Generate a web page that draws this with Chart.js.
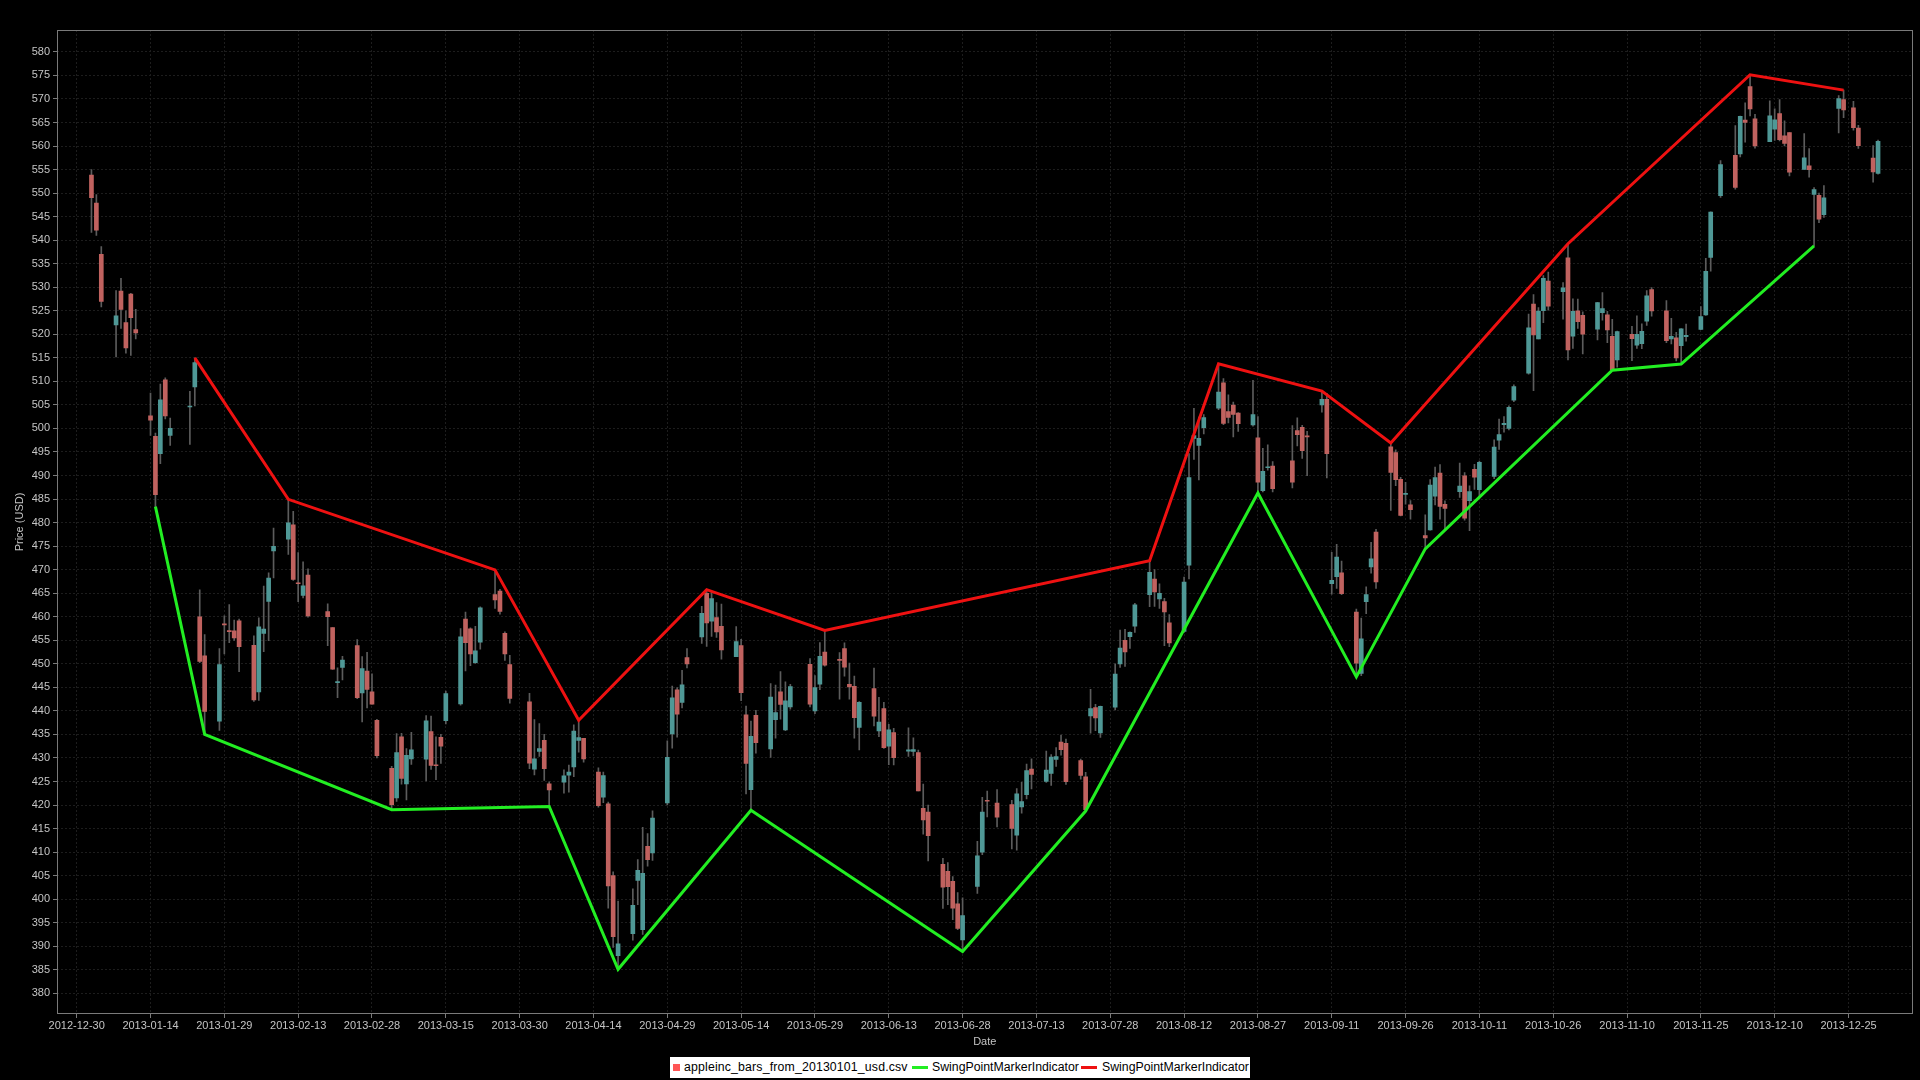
<!DOCTYPE html>
<html>
<head>
<meta charset="utf-8">
<title>appleinc bars 2013</title>
<script src="https://cdn.jsdelivr.net/npm/chart.js@4"></script>
<style>
  html, body { margin: 0; padding: 0; background: #000; }
  #wrap { position: relative; width: 1920px; height: 1080px; }
  #chart { position: absolute; left: 0; top: 0; }
  #legend {
    position: absolute; left: 670px; top: 1057px; width: 580px; height: 21px;
    background: #fff; font: 12.3px "Liberation Sans", Arial, sans-serif; color: #000;
  }
  #legend span { position: absolute; white-space: nowrap; }
  #legend .txt { top: 3px; }
  #legend .sq { top: 7px; width: 7px; height: 7px; }
  #legend .ln { top: 9px; width: 16px; height: 3px; }
</style>
</head>
<body>
<div id="wrap">
  <canvas id="chart" width="1920" height="1080"></canvas>
  <div id="legend"></div>
</div>
<script>
// trading days of 2013 (one line per month)
const tradeDates = [
  '2013-01-02','2013-01-03','2013-01-04','2013-01-07','2013-01-08','2013-01-09','2013-01-10','2013-01-11','2013-01-14','2013-01-15','2013-01-16','2013-01-17','2013-01-18','2013-01-22','2013-01-23','2013-01-24','2013-01-25','2013-01-28','2013-01-29','2013-01-30','2013-01-31',
  '2013-02-01','2013-02-04','2013-02-05','2013-02-06','2013-02-07','2013-02-08','2013-02-11','2013-02-12','2013-02-13','2013-02-14','2013-02-15','2013-02-19','2013-02-20','2013-02-21','2013-02-22','2013-02-25','2013-02-26','2013-02-27','2013-02-28',
  '2013-03-01','2013-03-04','2013-03-05','2013-03-06','2013-03-07','2013-03-08','2013-03-11','2013-03-12','2013-03-13','2013-03-14','2013-03-15','2013-03-18','2013-03-19','2013-03-20','2013-03-21','2013-03-22','2013-03-25','2013-03-26','2013-03-27','2013-03-28',
  '2013-04-01','2013-04-02','2013-04-03','2013-04-04','2013-04-05','2013-04-08','2013-04-09','2013-04-10','2013-04-11','2013-04-12','2013-04-15','2013-04-16','2013-04-17','2013-04-18','2013-04-19','2013-04-22','2013-04-23','2013-04-24','2013-04-25','2013-04-26','2013-04-29','2013-04-30',
  '2013-05-01','2013-05-02','2013-05-03','2013-05-06','2013-05-07','2013-05-08','2013-05-09','2013-05-10','2013-05-13','2013-05-14','2013-05-15','2013-05-16','2013-05-17','2013-05-20','2013-05-21','2013-05-22','2013-05-23','2013-05-24','2013-05-28','2013-05-29','2013-05-30','2013-05-31',
  '2013-06-03','2013-06-04','2013-06-05','2013-06-06','2013-06-07','2013-06-10','2013-06-11','2013-06-12','2013-06-13','2013-06-14','2013-06-17','2013-06-18','2013-06-19','2013-06-20','2013-06-21','2013-06-24','2013-06-25','2013-06-26','2013-06-27','2013-06-28',
  '2013-07-01','2013-07-02','2013-07-03','2013-07-05','2013-07-08','2013-07-09','2013-07-10','2013-07-11','2013-07-12','2013-07-15','2013-07-16','2013-07-17','2013-07-18','2013-07-19','2013-07-22','2013-07-23','2013-07-24','2013-07-25','2013-07-26','2013-07-29','2013-07-30','2013-07-31',
  '2013-08-01','2013-08-02','2013-08-05','2013-08-06','2013-08-07','2013-08-08','2013-08-09','2013-08-12','2013-08-13','2013-08-14','2013-08-15','2013-08-16','2013-08-19','2013-08-20','2013-08-21','2013-08-22','2013-08-23','2013-08-26','2013-08-27','2013-08-28','2013-08-29','2013-08-30',
  '2013-09-03','2013-09-04','2013-09-05','2013-09-06','2013-09-09','2013-09-10','2013-09-11','2013-09-12','2013-09-13','2013-09-16','2013-09-17','2013-09-18','2013-09-19','2013-09-20','2013-09-23','2013-09-24','2013-09-25','2013-09-26','2013-09-27','2013-09-30',
  '2013-10-01','2013-10-02','2013-10-03','2013-10-04','2013-10-07','2013-10-08','2013-10-09','2013-10-10','2013-10-11','2013-10-14','2013-10-15','2013-10-16','2013-10-17','2013-10-18','2013-10-21','2013-10-22','2013-10-23','2013-10-24','2013-10-25','2013-10-28','2013-10-29','2013-10-30','2013-10-31',
  '2013-11-01','2013-11-04','2013-11-05','2013-11-06','2013-11-07','2013-11-08','2013-11-11','2013-11-12','2013-11-13','2013-11-14','2013-11-15','2013-11-18','2013-11-19','2013-11-20','2013-11-21','2013-11-22','2013-11-25','2013-11-26','2013-11-27','2013-11-29',
  '2013-12-02','2013-12-03','2013-12-04','2013-12-05','2013-12-06','2013-12-09','2013-12-10','2013-12-11','2013-12-12','2013-12-13','2013-12-16','2013-12-17','2013-12-18','2013-12-19','2013-12-20','2013-12-23','2013-12-24','2013-12-26','2013-12-27','2013-12-30','2013-12-31'
];

const openPrices = [
  553.82,547.88,536.97,522.00,529.21,522.50,528.55,521.00,502.68,498.30,494.64,510.31,498.52,504.56,508.81,460.00,451.69,437.83,458.50,457.00,456.98,
  459.11,453.91,444.05,456.47,463.25,474.00,476.50,479.51,467.21,464.52,468.85,461.10,457.69,446.00,449.25,453.85,443.82,448.43,444.05,
  438.00,427.80,421.48,434.51,424.50,429.80,429.75,435.60,428.45,434.40,437.93,441.45,459.50,457.42,450.22,454.60,464.69,465.44,456.46,449.82,
  441.90,427.60,431.37,433.76,424.50,424.85,426.36,428.10,433.72,434.15,427.00,421.64,420.27,404.99,387.97,392.64,403.99,393.54,411.23,409.81,420.45,435.10,
  444.46,441.78,451.31,455.71,464.97,459.04,459.81,457.97,451.51,453.85,439.16,423.24,439.05,431.91,438.15,444.05,435.95,440.85,449.90,440.00,445.65,452.50,
  450.73,453.22,445.65,445.21,436.50,444.73,435.74,440.50,432.50,435.40,431.44,431.36,431.14,419.32,418.49,407.40,405.90,403.80,399.01,391.36,
  402.69,409.96,420.86,420.39,420.10,413.60,419.60,422.20,427.64,425.01,426.70,429.70,433.35,433.10,429.46,426.00,438.93,440.70,435.30,440.80,449.96,454.99,
  455.75,458.01,464.69,468.02,463.80,463.23,458.68,456.86,470.94,497.88,496.42,500.15,504.31,509.71,503.59,504.97,503.27,500.75,498.00,486.80,491.65,492.00,
  493.10,499.56,500.25,498.44,505.00,506.20,467.01,468.50,469.34,461.00,447.96,463.18,470.60,478.00,496.10,494.88,489.20,486.00,483.78,477.25,
  478.45,485.63,490.51,483.86,486.56,489.94,484.64,491.32,486.99,489.83,497.51,500.79,499.98,505.99,511.77,526.41,519.00,525.00,531.32,529.04,536.27,519.61,525.00,
  524.02,521.10,524.58,524.15,519.58,514.58,519.99,517.67,518.00,522.81,529.51,524.99,519.03,519.23,517.60,519.52,521.02,524.12,536.31,549.48,
  558.00,558.30,565.50,572.65,565.79,560.90,563.58,566.89,562.14,562.85,555.02,555.81,549.70,549.50,545.43,568.00,569.89,568.10,563.82,557.46,554.17
];

const highPrices = [
  555.00,549.67,538.63,529.30,531.89,525.01,528.72,525.32,507.50,498.99,509.44,510.75,502.22,507.88,514.99,465.73,456.23,453.21,460.20,462.60,459.28,
  459.48,455.94,459.74,466.50,469.35,478.81,484.94,482.38,473.64,471.64,470.16,462.73,457.69,449.17,451.60,455.12,451.54,452.44,447.87,
  438.18,428.20,435.19,435.25,432.01,435.43,439.01,438.88,434.50,435.00,444.23,457.46,460.97,457.63,457.98,462.10,469.95,465.84,456.80,451.82,
  443.70,438.14,437.28,435.00,424.95,427.50,428.50,437.06,437.99,434.15,427.89,426.99,420.60,405.79,399.60,402.20,408.38,415.25,413.94,418.77,433.62,445.25,
  444.93,448.59,453.23,462.20,465.75,465.37,463.00,462.68,457.90,455.20,441.00,437.85,440.09,445.80,445.48,448.35,446.16,445.66,451.10,447.50,454.50,457.10,
  452.36,454.43,450.16,447.39,441.95,449.08,442.90,441.81,437.14,436.29,436.42,434.27,431.66,424.43,420.00,408.66,407.79,404.79,401.39,400.27,
  412.27,421.63,422.98,423.29,421.00,423.50,424.80,428.67,429.79,431.46,430.71,432.22,434.87,433.98,429.75,426.96,444.59,441.40,441.04,449.99,457.15,457.34,
  456.80,462.85,471.90,470.00,467.00,463.90,460.46,468.44,494.66,504.25,502.40,502.94,513.74,510.57,507.15,505.59,503.35,510.20,502.51,495.80,496.50,492.95,
  500.60,502.24,500.68,499.38,507.92,507.45,473.69,475.40,471.83,461.61,459.71,466.35,475.83,478.55,496.91,495.47,489.64,488.56,484.67,481.66,
  489.14,491.80,492.35,484.60,492.65,490.64,487.79,492.38,493.08,497.58,502.00,502.53,504.78,509.26,524.30,528.45,525.67,532.47,533.23,531.00,539.25,527.52,527.49,
  524.80,526.82,528.89,524.86,523.19,520.68,521.67,523.92,522.25,529.28,529.94,527.19,523.38,520.42,521.21,522.16,525.87,536.14,546.00,556.92,
  564.33,566.38,569.19,575.14,566.75,569.58,567.88,569.88,565.34,562.88,562.64,559.44,551.19,550.00,551.61,570.72,571.88,569.50,564.41,560.09,561.28
];

const lowPrices = [
  541.63,541.00,525.83,515.20,521.25,515.99,515.52,519.02,498.51,483.38,492.50,502.03,496.40,496.63,504.77,450.25,435.00,435.86,452.12,454.50,454.98,
  448.35,442.00,442.22,452.58,454.89,468.25,473.25,467.74,463.22,464.02,459.92,453.85,448.80,442.82,446.60,442.57,437.66,440.65,441.40,
  429.98,419.00,420.75,424.43,421.06,428.61,425.14,427.57,425.36,428.81,437.25,441.20,448.50,449.59,450.10,453.11,461.78,460.53,450.73,441.62,
  427.74,426.40,430.31,425.25,419.68,422.49,422.75,426.01,431.20,429.09,419.55,420.52,398.11,389.74,385.10,391.27,398.81,392.50,407.00,408.25,420.00,432.07,
  434.39,440.63,449.15,454.31,453.70,455.81,455.58,451.00,451.50,442.15,422.36,418.90,431.01,430.10,434.20,438.22,435.79,440.36,440.85,439.40,444.51,449.50,
  442.48,447.39,442.48,434.20,431.70,436.80,434.51,432.02,428.55,428.50,430.33,430.41,423.00,413.83,408.10,398.05,398.84,395.66,393.54,388.87,
  401.22,409.47,417.45,415.35,410.65,410.38,418.25,421.29,423.41,424.80,424.17,428.22,430.61,424.35,425.47,418.71,435.26,435.81,434.34,440.20,449.23,449.43,
  453.26,456.66,462.15,462.17,461.77,453.84,453.65,456.67,468.05,493.40,489.08,498.86,504.00,500.82,501.20,498.20,499.35,500.50,486.30,486.50,491.13,486.50,
  487.35,496.28,493.64,489.95,503.48,489.50,464.81,466.01,464.70,447.22,447.50,460.66,469.25,466.00,482.60,487.82,481.43,483.90,480.72,474.41,
  478.38,483.75,480.74,478.60,485.35,480.54,478.28,487.03,485.16,489.35,495.52,499.23,499.68,505.71,511.52,508.03,519.00,522.45,525.11,523.21,514.54,517.02,521.27,
  515.84,518.81,523.00,518.20,512.38,513.00,514.41,517.00,516.96,521.87,523.87,518.20,517.97,514.33,513.67,518.53,521.00,524.00,533.40,549.06,
  550.82,557.68,560.82,566.41,559.57,560.90,561.20,561.10,560.03,553.67,555.01,553.38,538.79,543.73,544.82,562.76,566.03,563.38,559.50,552.32,554.00
];

const closePrices = [
  549.03,542.10,527.00,523.90,525.31,517.10,523.51,520.30,501.75,485.92,506.09,502.68,500.00,504.77,514.01,450.50,439.88,449.83,458.27,456.83,455.49,
  453.62,442.32,457.84,457.35,468.22,474.98,479.93,467.90,467.01,466.59,460.16,459.99,448.85,446.06,450.81,442.80,448.97,444.57,441.40,
  430.47,420.05,431.14,425.66,430.58,431.72,437.87,428.43,428.35,432.50,443.66,455.72,454.49,452.08,452.73,461.91,463.58,461.14,452.08,442.66,
  428.91,429.79,431.99,427.72,423.20,426.21,426.98,435.69,434.33,429.80,419.85,426.24,402.80,392.05,390.53,398.67,406.13,405.46,408.38,417.20,430.12,442.78,
  439.29,445.52,449.98,460.71,458.66,463.84,456.77,452.97,454.74,443.86,428.85,434.58,433.26,442.93,439.66,441.35,442.14,445.15,441.44,444.95,451.58,449.73,
  450.72,449.31,445.11,438.56,441.81,438.89,437.60,432.19,435.96,430.05,431.72,431.77,423.00,416.84,413.50,402.54,402.63,398.07,393.78,396.53,
  409.22,418.49,420.80,417.42,415.05,422.35,420.73,427.29,426.51,427.44,430.20,430.31,431.76,424.95,426.31,418.99,440.51,438.50,440.99,447.79,453.32,452.53,
  456.68,462.54,469.45,465.25,464.98,461.01,454.45,467.36,489.57,498.50,497.91,502.33,507.74,501.07,502.36,502.96,501.02,502.97,488.59,490.90,491.70,487.22,
  488.58,498.69,495.27,498.22,506.17,494.64,467.71,472.69,464.90,450.12,455.32,464.68,472.30,467.41,490.64,489.10,481.53,486.22,482.75,476.75,
  487.96,489.56,483.41,483.03,487.75,480.94,486.59,489.64,492.81,496.04,498.68,501.11,504.50,508.89,521.36,519.87,524.96,531.91,525.96,529.88,516.68,524.90,522.70,
  520.03,526.75,525.45,520.92,512.49,520.56,519.05,520.01,520.63,528.16,524.99,518.63,519.55,515.00,521.14,519.80,523.74,533.40,545.96,556.07,
  551.23,566.32,565.00,567.90,560.02,566.43,565.55,561.36,560.54,554.43,557.50,554.99,550.77,544.46,549.02,570.09,567.67,563.90,560.09,554.52,561.02
];

// swing point markers
const swingLowDates = ['2013-01-15','2013-01-25','2013-03-04','2013-04-05','2013-04-19','2013-05-16','2013-06-28','2013-07-23','2013-08-27','2013-09-16','2013-09-30','2013-11-07','2013-11-21','2013-12-18'];
const swingLowValues = [483.38, 435.00, 419.00, 419.68, 385.10, 418.90, 388.87, 418.71, 486.30, 447.22, 474.41, 512.38, 513.67, 538.79];
const swingHighDates = ['2013-01-23','2013-02-11','2013-03-25','2013-04-11','2013-05-07','2013-05-31','2013-08-05','2013-08-19','2013-09-09','2013-09-23','2013-10-29','2013-12-05','2013-12-24'];
const swingHighValues = [514.99, 484.94, 469.95, 437.99, 465.75, 457.10, 471.90, 513.74, 507.92, 496.91, 539.25, 575.14, 571.88];

// axis ticks
const xTickLabels = ['2012-12-30','2013-01-14','2013-01-29','2013-02-13','2013-02-28','2013-03-15','2013-03-30','2013-04-14','2013-04-29','2013-05-14','2013-05-29','2013-06-13','2013-06-28','2013-07-13','2013-07-28','2013-08-12','2013-08-27','2013-09-11','2013-09-26','2013-10-11','2013-10-26','2013-11-10','2013-11-25','2013-12-10','2013-12-25'];
const yTickValues = [];
for (let v = 380; v <= 580; v += 5) yTickValues.push(v);

const seriesName = 'appleinc_bars_from_20130101_usd.csv';
const swingName = 'SwingPointMarkerIndicator';

const UP = '#4f9896';
const DOWN = '#c0625f';
const WICK = '#5c5c5c';
const GREEN = '#22ee22';
const RED = '#ee1111';

// days since 2012-12-30
function dayNum(s) {
  const [y, m, d] = s.split('-').map(Number);
  return (Date.UTC(y, m - 1, d) - Date.UTC(2012, 11, 30)) / 86400000;
}

const bodies = tradeDates.map((d, i) => ({ x: dayNum(d), y: [openPrices[i], closePrices[i]] }));
const wicks = tradeDates.map((d, i) => ({ x: dayNum(d), y: [lowPrices[i], highPrices[i]] }));
const bodyColors = openPrices.map((o, i) => closePrices[i] >= o ? UP : DOWN);

const framePlugin = {
  id: 'frame',
  beforeDraw(chart) {
    const { ctx, width, height } = chart;
    ctx.save();
    ctx.fillStyle = '#000';
    ctx.fillRect(0, 0, width, height);
    ctx.restore();
  },
  beforeDatasetsDraw(chart) {
    const { ctx, chartArea: a } = chart;
    ctx.save();
    ctx.strokeStyle = '#7a7a7a';
    ctx.lineWidth = 1;
    ctx.strokeRect(Math.round(a.left) + 0.5, Math.round(a.top) + 0.5,
      Math.round(a.right - a.left) - 1, Math.round(a.bottom - a.top) - 1);
    ctx.restore();
  }
};

Chart.defaults.font.family = '"Liberation Sans", Arial, sans-serif';
Chart.defaults.font.size = 11;
Chart.defaults.color = '#c4c4c4';

const gridStyle = { color: '#1d1d1d', lineWidth: 1, tickColor: '#7a7a7a', tickLength: 4, tickBorderDash: [] };

new Chart(document.getElementById('chart'), {
  type: 'line',
  data: {
    datasets: [
      {
        label: swingName,
        data: swingLowDates.map((d, i) => ({ x: dayNum(d), y: swingLowValues[i] })),
        borderColor: GREEN, borderWidth: 3, pointRadius: 0, tension: 0, fill: false
      },
      {
        label: swingName,
        data: swingHighDates.map((d, i) => ({ x: dayNum(d), y: swingHighValues[i] })),
        borderColor: RED, borderWidth: 3, pointRadius: 0, tension: 0, fill: false
      },
      {
        type: 'bar', label: seriesName, data: bodies,
        backgroundColor: bodyColors, borderWidth: 0,
        barThickness: 4, grouped: false, minBarLength: 1
      },
      {
        type: 'bar', label: 'wicks', data: wicks,
        backgroundColor: WICK, borderWidth: 0,
        barThickness: 1, grouped: false
      }
    ]
  },
  options: {
    responsive: false,
    animation: false,
    devicePixelRatio: 1,
    events: [],
    layout: { padding: { top: 30, right: 7.5, left: 0, bottom: 0 } },
    plugins: { legend: { display: false }, tooltip: { enabled: false } },
    scales: {
      x: {
        type: 'linear',
        min: -4,
        max: 373,
        offset: false,
        grid: { ...gridStyle, offset: false },
        border: { display: false, dash: [2, 2] },
        afterBuildTicks: axis => { axis.ticks = xTickLabels.map(s => ({ value: dayNum(s) })); },
        afterFit: axis => { axis.height = 66; },
        ticks: {
          autoSkip: false, maxRotation: 0, padding: 1,
          callback: (v, i) => xTickLabels[i]
        },
        title: { display: true, text: 'Date', padding: { top: 0, bottom: 31 } }
      },
      y: {
        min: 375.6,
        max: 584.65,
        grid: { ...gridStyle },
        border: { display: false, dash: [2, 2] },
        afterBuildTicks: axis => { axis.ticks = yTickValues.map(v => ({ value: v })); },
        afterFit: axis => { axis.width = 57; },
        ticks: { autoSkip: false, padding: 3 },
        title: { display: true, text: 'Price (USD)', padding: { top: 13, bottom: 0 } }
      }
    }
  },
  plugins: [framePlugin]
});

// legend box under the chart
const legend = document.getElementById('legend');
legend.innerHTML = `
  <span class="sq" style="left:3px;background:#ff5555"></span>
  <span class="txt" style="left:14px;letter-spacing:0.16px">${seriesName}</span>
  <span class="ln" style="left:242px;background:${GREEN}"></span>
  <span class="txt" style="left:262px">${swingName}</span>
  <span class="ln" style="left:411px;background:${RED}"></span>
  <span class="txt" style="left:432px">${swingName}</span>
`;
</script>
</body>
</html>
